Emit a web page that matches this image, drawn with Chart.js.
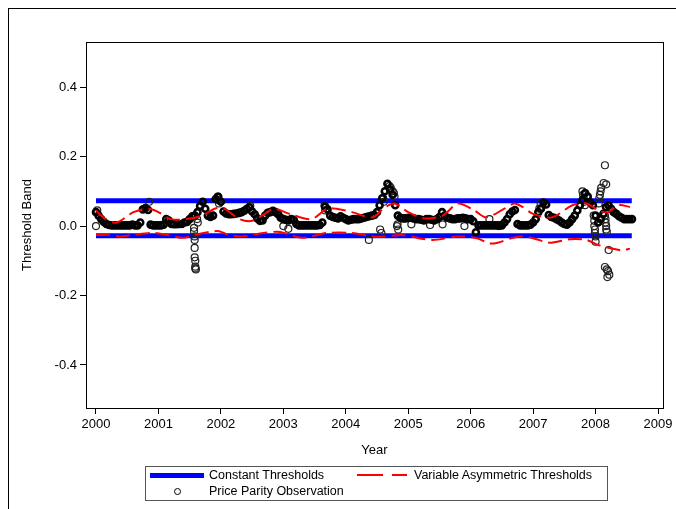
<!DOCTYPE html>
<html>
<head>
<meta charset="utf-8">
<script src="https://cdn.jsdelivr.net/npm/chart.js@4.4.1/dist/chart.umd.min.js"></script>
<style>
  body { margin: 0; background: #fff; font-family: "Liberation Sans", Arial, sans-serif; }
  #wrap { position: relative; width: 676px; height: 509px; overflow: hidden; }
  #outer { position: absolute; left: 8px; top: 8px; width: 700px; height: 520px; border-left: 1px solid #000; border-top: 1px solid #000; }
  #legend { position: absolute; left: 145px; top: 466px; width: 461px; height: 33px; border: 1px solid #555; font-size: 12.5px; color: #000; }
  .item { position: absolute; white-space: nowrap; line-height: 14px; }
  .sw { position: absolute; }
</style>
</head>
<body>
<div id="wrap">
  <div id="outer"></div>
  <canvas id="chart" width="676" height="509"></canvas>
  <div id="legend">
    <div class="sw" style="left:4px;top:6px;width:54px;height:5px;background:#0000ff"></div>
    <div class="item" style="left:63px;top:1px">Constant Thresholds</div>
    <div class="sw" style="left:211px;top:7px;width:26px;height:2px;background:#ff0000"></div>
    <div class="sw" style="left:246px;top:7px;width:15px;height:2px;background:#ff0000"></div>
    <div class="item" style="left:268px;top:1px">Variable Asymmetric Thresholds</div>
    <div class="sw" style="left:28px;top:21px;width:5px;height:5px;border:1px solid #000;border-radius:50%"></div>
    <div class="item" style="left:63px;top:17px">Price Parity Observation</div>
  </div>
</div>
<script>
// price parity observations, twice a month from Jan 2000
var obsStart = 2000;
var obsPerYear = 24;
var obsValues = [
  // 2000
  0.040, 0.030, 0.020, 0.012, 0.006, 0.003, 0.002, 0.002, 0.002, 0.002, 0.002, 0.002,
  0.002, 0.002, 0.004, 0.002, 0.002, 0.010, 0.048, 0.052, 0.046, 0.004, 0.002, 0.002,
  // 2001
  0.002, 0.002, 0.004, 0.020, 0.016, 0.006, 0.005, 0.005, 0.006, 0.006, 0.010, 0.012,
  0.020, 0.028, 0.030, 0.040, 0.058, 0.070, 0.050, 0.030, 0.026, 0.030, 0.078, 0.084,
  // 2002
  0.070, 0.042, 0.036, 0.034, 0.034, 0.035, 0.036, 0.038, 0.040, 0.044, 0.050, 0.054,
  0.042, 0.034, 0.022, 0.015, 0.016, 0.030, 0.038, 0.040, 0.044, 0.040, 0.034, 0.024,
  // 2003
  0.020, 0.018, 0.016, 0.020, 0.018, 0.006, 0.002, 0.002, 0.002, 0.002, 0.002, 0.002,
  0.002, 0.002, 0.003, 0.010, 0.056, 0.048, 0.030, 0.026, 0.024, 0.022, 0.028, 0.024,
  // 2004
  0.020, 0.016, 0.018, 0.020, 0.020, 0.020, 0.022, 0.024, 0.026, 0.028, 0.030, 0.032,
  0.040, 0.060, 0.080, 0.100, 0.122, 0.105, 0.090, 0.060, 0.030, 0.024, 0.022, 0.022,
  // 2005
  0.024, 0.024, 0.022, 0.020, 0.020, 0.018, 0.016, 0.020, 0.020, 0.018, 0.016, 0.020,
  0.026, 0.040, 0.030, 0.024, 0.022, 0.020, 0.020, 0.022, 0.022, 0.024, 0.022, 0.020,
  // 2006
  0.020, 0.014, -0.018, 0.002, 0.002, 0.002, 0.002, 0.002, 0.002, 0.002, 0.002, 0.002,
  0.002, 0.010, 0.020, 0.034, 0.042, 0.046, 0.006, 0.002, 0.002, 0.002, 0.002, 0.004,
  // 2007
  0.010, 0.020, 0.040, 0.050, 0.068, 0.062, 0.032, 0.026, 0.024, 0.020, 0.016, 0.010,
  0.006, 0.004, 0.010, 0.020, 0.030, 0.045, 0.060, 0.075, 0.095, 0.085, 0.068, 0.060,
  // 2008
  0.030, 0.010, 0.020, 0.035, 0.055, 0.060, 0.050, 0.040, 0.035, 0.028, 0.024, 0.020,
  0.020, 0.020, 0.020
];

// scattered single observations off the main band
var outX = [2000.0, 2000.02, 2000.85,
  2001.57, 2001.57, 2001.58, 2001.58, 2001.58, 2001.58, 2001.59, 2001.59, 2001.59, 2001.6,
  2001.62, 2001.63, 2001.95, 2001.96, 2001.97, 2002.47, 2003.0, 2003.08, 2003.66, 2003.67,
  2004.37, 2004.55, 2004.57, 2004.6, 2004.61, 2004.7, 2004.72, 2004.75, 2004.77, 2004.78,
  2004.82, 2004.83, 2004.84, 2005.05, 2005.35, 2005.55, 2005.9, 2006.3, 2006.45,
  2007.1, 2007.12, 2007.79, 2007.8, 2007.81, 2007.82, 2007.83,
  2007.97, 2007.98, 2007.98, 2007.99, 2007.99, 2008.0, 2008.0,
  2008.05, 2008.06, 2008.07, 2008.08, 2008.09,
  2008.15, 2008.13, 2008.17, 2008.15, 2008.16, 2008.16, 2008.17, 2008.17, 2008.18,
  2008.21, 2008.15, 2008.18, 2008.2, 2008.22, 2008.19];
var outY = [0.0, 0.045, 0.07,
  -0.005, -0.015, -0.03, -0.04, -0.063, -0.09, -0.1, -0.117, -0.122, -0.125,
  0.02, 0.01, 0.085, 0.075, 0.065, 0.058, 0.0, -0.008, 0.06, 0.045,
  -0.04, -0.01, -0.02, 0.08, 0.07, 0.115, 0.11, 0.1, 0.095, 0.085,
  0.0, 0.005, -0.01, 0.005, 0.003, 0.005, 0.0, 0.02, 0.0,
  0.05, 0.065, 0.1, 0.09, 0.08, 0.07, 0.06,
  0.03, 0.015, 0.0, -0.01, -0.02, -0.03, -0.045,
  0.065, 0.08, 0.09, 0.1, 0.11,
  0.175, 0.124, 0.12, 0.03, 0.02, 0.01, 0.0, -0.01, -0.017,
  -0.069, -0.118, -0.125, -0.13, -0.14, -0.147];

// constant thresholds
var constYears = [2000.0, 2008.58];
var constUpper = 0.073;
var constLower = -0.028;

// variable asymmetric thresholds
var upperYears = [2000.0, 2000.15, 2000.33, 2000.6, 2000.85, 2001.0, 2001.2, 2001.45, 2001.7, 2001.9,
  2002.05, 2002.3, 2002.5, 2002.7, 2002.85, 2003.1, 2003.45, 2003.7, 2003.85, 2004.1,
  2004.43, 2004.6, 2004.78, 2005.0, 2005.26, 2005.55, 2005.8, 2006.06, 2006.25, 2006.54,
  2006.7, 2006.83, 2007.0, 2007.3, 2007.63, 2007.85, 2008.05, 2008.2, 2008.37, 2008.55];
var upperVals = [0.045, 0.02, 0.01, 0.04, 0.05, 0.04, 0.02, 0.02, 0.03, 0.05,
  0.05, 0.02, 0.015, 0.035, 0.05, 0.035, 0.02, 0.05, 0.05, 0.04,
  0.025, 0.05, 0.065, 0.04, 0.022, 0.03, 0.065, 0.045, 0.025, 0.05,
  0.065, 0.055, 0.035, 0.025, 0.06, 0.065, 0.045, 0.04, 0.06, 0.055];
var lowerYears = [2000.0, 2000.2, 2000.38, 2000.6, 2000.92, 2001.15, 2001.4, 2001.6, 2001.82, 2001.97,
  2002.13, 2002.36, 2002.68, 2002.95, 2003.3, 2003.7, 2004.1, 2004.43, 2004.62, 2004.9,
  2005.38, 2005.8, 2006.1, 2006.3, 2006.43, 2006.65, 2006.8, 2007.0, 2007.26, 2007.58,
  2007.85, 2008.05, 2008.22, 2008.43, 2008.55];
var lowerVals = [-0.026, -0.025, -0.03, -0.025, -0.02, -0.026, -0.034, -0.025, -0.017, -0.015,
  -0.026, -0.03, -0.02, -0.017, -0.034, -0.02, -0.02, -0.03, -0.03, -0.026,
  -0.04, -0.03, -0.035, -0.05, -0.048, -0.035, -0.03, -0.035, -0.048, -0.038,
  -0.04, -0.055, -0.063, -0.07, -0.065];

var yTicks = [-0.4, -0.2, 0.0, 0.2, 0.4];
var xTicks = [2000, 2001, 2002, 2003, 2004, 2005, 2006, 2007, 2008, 2009];

function pairs(xs, ys) {
  return xs.map(function (x, i) { return { x: x, y: ys[i] }; });
}

var obsPoints = obsValues.map(function (v, i) { return { x: obsStart + i / obsPerYear, y: v }; });

var frame = {
  id: 'frame',
  afterDatasetsDraw: function (chart) {
    var a = chart.chartArea, ctx = chart.ctx;
    ctx.save();
    ctx.strokeStyle = '#000';
    ctx.lineWidth = 1;
    ctx.strokeRect(Math.round(a.left) + 0.5, Math.round(a.top) + 0.5, Math.round(a.right - a.left), Math.round(a.bottom - a.top));
    ctx.restore();
  }
};

var font = { family: '"Liberation Sans", Arial, sans-serif', size: 13 };

new Chart(document.getElementById('chart').getContext('2d'), {
  type: 'scatter',
  data: {
    datasets: [
      { label: 'Constant Thresholds', data: pairs(constYears, [constUpper, constUpper]), showLine: true,
        borderColor: '#0000ff', borderWidth: 5, pointRadius: 0, order: 3 },
      { label: 'Constant Thresholds lower', data: pairs(constYears, [constLower, constLower]), showLine: true,
        borderColor: '#0000ff', borderWidth: 5, pointRadius: 0, order: 3 },
      { label: 'Price Parity Observation', data: obsPoints, pointStyle: 'circle', pointRadius: 3,
        borderColor: '#000', borderWidth: 2.6, backgroundColor: 'rgba(0,0,0,0)', order: 2 },
      { label: 'Price Parity Observation extra', data: pairs(outX, outY), pointStyle: 'circle', pointRadius: 3.5,
        borderColor: '#222', borderWidth: 1.2, backgroundColor: 'rgba(0,0,0,0)', order: 2 },
      { label: 'Variable Asymmetric Thresholds', data: pairs(upperYears, upperVals), showLine: true,
        borderColor: '#ff0000', borderWidth: 2, borderDash: [14, 6], pointRadius: 0, tension: 0.3, order: 1 },
      { label: 'Variable Asymmetric Thresholds lower', data: pairs(lowerYears, lowerVals), showLine: true,
        borderColor: '#ff0000', borderWidth: 2, borderDash: [14, 6], pointRadius: 0, tension: 0.3, order: 1 }
    ]
  },
  options: {
    responsive: false,
    animation: false,
    layout: { padding: { top: 42, right: 13, left: 0, bottom: 0 } },
    plugins: { legend: { display: false }, tooltip: { enabled: false } },
    scales: {
      x: {
        type: 'linear', min: 1999.84, max: 2009.08,
        afterFit: function (s) { s.height = 101; },
        afterBuildTicks: function (s) { s.ticks = xTicks.map(function (v) { return { value: v }; }); },
        ticks: { color: '#000', font: font, padding: 3, maxRotation: 0, autoSkip: false,
          callback: function (v) { return String(v); } },
        grid: { drawOnChartArea: false, drawTicks: true, tickLength: 6, color: '#000' },
        border: { display: false },
        title: { display: true, text: 'Year', color: '#000', font: font, padding: { top: 0, bottom: 51 } }
      },
      y: {
        min: -0.524, max: 0.53,
        afterFit: function (s) { s.width = 86; },
        afterBuildTicks: function (s) { s.ticks = yTicks.map(function (v) { return { value: v }; }); },
        ticks: { color: '#000', font: font, padding: 3,
          callback: function (v) { return v.toFixed(1); } },
        grid: { drawOnChartArea: false, drawTicks: true, tickLength: 6, color: '#000' },
        border: { display: false },
        title: { display: true, text: 'Threshold Band', color: '#000', font: font, padding: { top: 20, bottom: 0 } }
      }
    }
  },
  plugins: [frame]
});
</script>
</body>
</html>
